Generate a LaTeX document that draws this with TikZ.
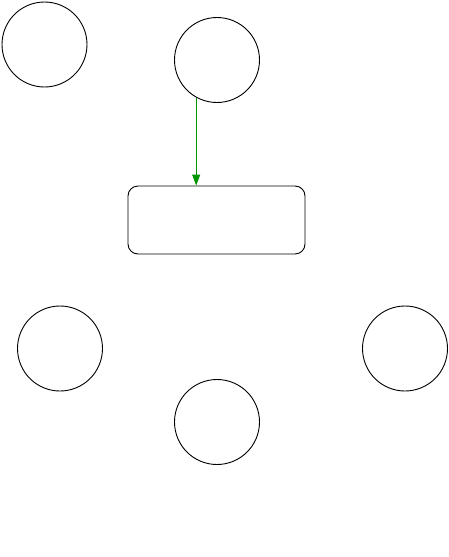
\documentclass[tikz,border=0pt]{standalone}
\usetikzlibrary{arrows.meta}
\begin{document}
\begin{tikzpicture}[x=1pt,y=-1pt,
  circ/.style={draw=black,circle,minimum size=85pt,inner sep=0pt,line width=0.9pt},
  box/.style={draw=black,rounded corners=10pt,minimum width=177pt,minimum height=68pt,inner sep=0pt,line width=0.9pt},
  flow/.style={draw={rgb,255:red,0;green,150;blue,0},line width=0.9pt,-{Triangle[length=11pt,width=8pt,fill={rgb,255:red,0;green,150;blue,0}]}}]
\useasboundingbox (0,0) rectangle (448,557);
\node[circ] (c1) at (44.5,44.5) {};
\node[circ] (c2) at (217,60) {};
\node[box] (r) at (216.5,220) {};
\node[circ] (c3) at (60,348.5) {};
\node[circ] (c4) at (405,348.5) {};
\node[circ] (c5) at (217,422) {};
\draw[flow] (c2.-119.6) -- (c2.-119.6 |- r.north);
\end{tikzpicture}
\end{document}
